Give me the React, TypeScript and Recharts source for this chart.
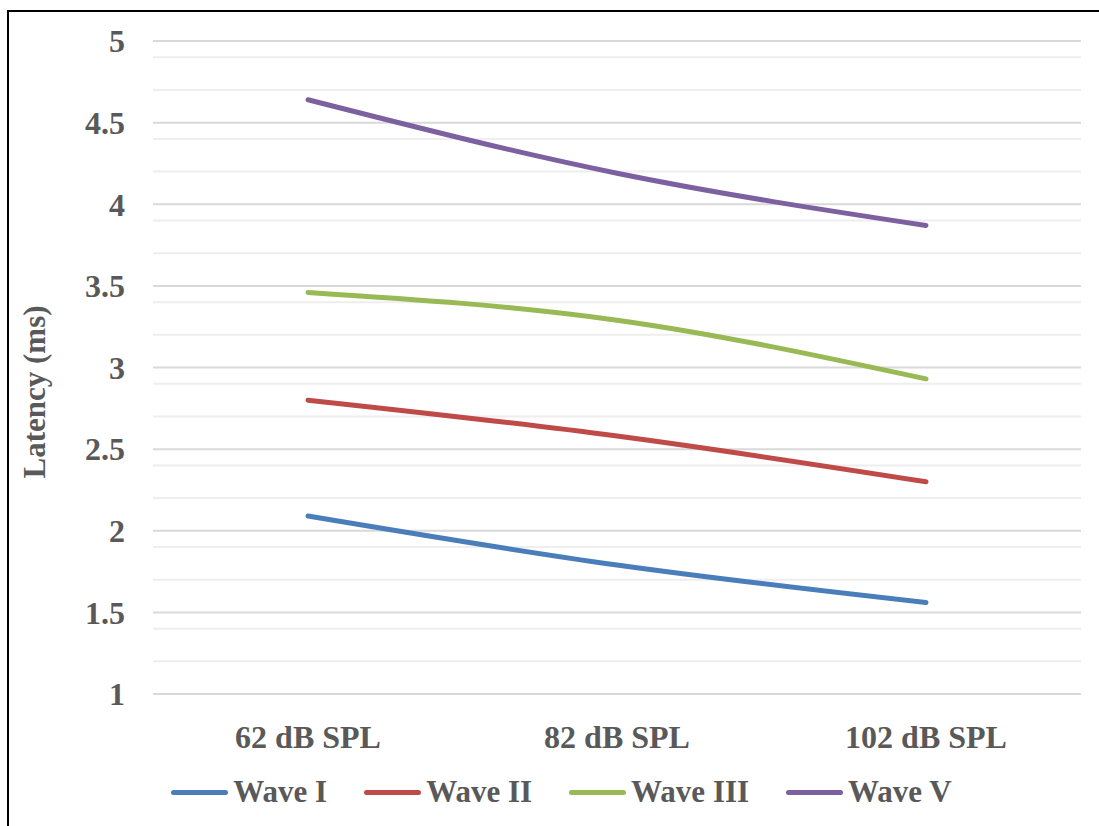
import { LineChart, Line, XAxis, YAxis, CartesianGrid, Legend } from 'recharts';

const levels = ['62 dB SPL', '82 dB SPL', '102 dB SPL'];
const waveI = [2.09, 1.79, 1.56];
const waveII = [2.8, 2.58, 2.3];
const waveIII = [3.46, 3.29, 2.93];
const waveV = [4.64, 4.19, 3.87];

const majorTicks = [1, 1.5, 2, 2.5, 3, 3.5, 4, 4.5, 5];
const minorTicks = [
    1.1, 1.2, 1.3, 1.4, 1.6, 1.7, 1.8, 1.9, 2.1, 2.2, 2.3, 2.4, 2.6, 2.7, 2.8, 2.9,
    3.1, 3.2, 3.3, 3.4, 3.6, 3.7, 3.8, 3.9, 4.1, 4.2, 4.3, 4.4, 4.6, 4.7, 4.8, 4.9,
];

const seriesList = [
    { key: 'waveI', name: 'Wave I', values: waveI, color: '#4A7EBB' },
    { key: 'waveII', name: 'Wave II', values: waveII, color: '#BE4B48' },
    { key: 'waveIII', name: 'Wave III', values: waveIII, color: '#98B954' },
    { key: 'waveV', name: 'Wave V', values: waveV, color: '#7D60A0' },
];

const data = levels.map((level, i) => {
    const row: Record<string, string | number> = { level };
    seriesList.forEach(s => { row[s.key] = s.values[i]; });
    return row;
});

const FONT = '"Liberation Serif", "Times New Roman", serif';
const TEXT = '#595959';

function LegendContent() {
    return (
        <div style={{ height: 40, display: 'flex', alignItems: 'center', justifyContent: 'center', gap: 37, paddingLeft: 42 }}>
            {seriesList.map(s => (
                <div key={s.key} style={{ display: 'flex', alignItems: 'center' }}>
                    <div style={{ width: 57, height: 5, borderRadius: 3, background: s.color, marginRight: 5 }} />
                    <span style={{ fontFamily: FONT, fontWeight: 'bold', fontSize: 31, color: TEXT, lineHeight: '40px' }}>{s.name}</span>
                </div>
            ))}
        </div>
    );
}

export default function App() {
    return (
        <div style={{ position: 'absolute', left: 0, top: 0, width: 1099, height: 826, background: '#fff', overflow: 'hidden' }}>
            <div style={{ position: 'absolute', left: 7, top: 10, width: 1100, height: 830, borderLeft: '2px solid #000', borderTop: '2px solid #000' }} />
            <LineChart
                width={1099}
                height={826}
                data={data}
                margin={{ top: 41, right: 18, left: 0, bottom: 14 }}
                style={{ position: 'absolute', left: 0, top: 0 }}
            >
                <CartesianGrid vertical={false} horizontalValues={minorTicks} stroke="#EEEEEE" strokeWidth={2} />
                <CartesianGrid vertical={false} horizontalValues={majorTicks} stroke="#D9D9D9" strokeWidth={2} />
                <XAxis
                    dataKey="level"
                    height={78}
                    padding={{ left: 155, right: 155 }}
                    axisLine={{ stroke: '#D9D9D9', strokeWidth: 2 }}
                    tickLine={false}
                    tickMargin={25}
                    tick={{ fill: TEXT, fontSize: 32, fontWeight: 'bold', fontFamily: FONT }}
                />
                <YAxis
                    width={153}
                    domain={[1, 5]}
                    ticks={majorTicks}
                    axisLine={false}
                    tickLine={false}
                    tickMargin={22}
                    tick={{ fill: TEXT, fontSize: 32, fontWeight: 'bold', fontFamily: FONT }}
                    label={{
                        content: () => (
                            <text
                                x={34}
                                y={392}
                                transform="rotate(-90 34 392)"
                                textAnchor="middle"
                                dominantBaseline="central"
                                fill={TEXT}
                                fontSize={31}
                                fontWeight="bold"
                                fontFamily={FONT}
                            >
                                Latency (ms)
                            </text>
                        ),
                    }}
                />
                <Legend verticalAlign="bottom" content={() => <LegendContent />} />
                {seriesList.map(s => (
                    <Line
                        key={s.key}
                        dataKey={s.key}
                        name={s.name}
                        type="monotone"
                        stroke={s.color}
                        strokeWidth={5}
                        strokeLinecap="round"
                        dot={false}
                        isAnimationActive={false}
                    />
                ))}
            </LineChart>
        </div>
    );
}
